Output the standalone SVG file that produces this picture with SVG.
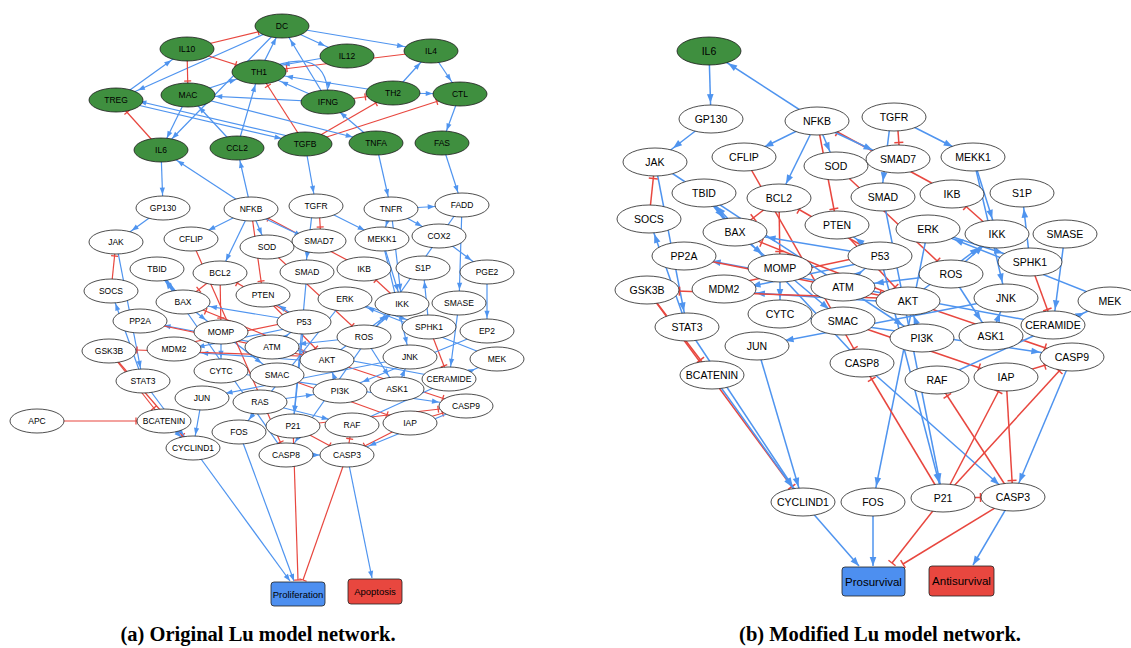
<svg xmlns="http://www.w3.org/2000/svg" width="1131" height="648" viewBox="0 0 1131 648">
<style>
.b{stroke:#4f94ef;stroke-width:1.2;fill:none}
.r{stroke:#e8473f;stroke-width:1.2;fill:none}
.B{stroke:#4f94ef;stroke-width:1.5;fill:none}
.R{stroke:#e8473f;stroke-width:1.5;fill:none}
.thick{stroke-width:3}
.n ellipse{fill:#fff;stroke:#222;stroke-width:0.8}
.n.g ellipse{fill:#3f8f3f;stroke:#1a1a1a}
.n text{font-family:"Liberation Sans",Arial,sans-serif;font-size:8.5px;text-anchor:middle;fill:#000}
.m text{font-size:10.5px}
.box rect{stroke:#222;stroke-width:0.8}
.box text{font-family:"Liberation Sans",Arial,sans-serif;text-anchor:middle;fill:#000}
.cap{font-family:"Liberation Serif","Times New Roman",serif;font-weight:bold;font-size:20.5px;text-anchor:middle;fill:#000}
</style>
<defs>
<marker id="aL0" markerUnits="userSpaceOnUse" markerWidth="20" markerHeight="20" refX="0" refY="0" orient="auto" overflow="visible"><path d="M0,0L-7,-2.6L-7,2.6Z" fill="#4f94ef"/></marker>
<marker id="aL1" markerUnits="userSpaceOnUse" markerWidth="20" markerHeight="20" refX="13.3" refY="0" orient="auto" overflow="visible"><path d="M0,0L-7,-2.6L-7,2.6Z" fill="#4f94ef"/></marker>
<marker id="aL2" markerUnits="userSpaceOnUse" markerWidth="20" markerHeight="20" refX="15.8" refY="0" orient="auto" overflow="visible"><path d="M0,0L-7,-2.6L-7,2.6Z" fill="#4f94ef"/></marker>
<marker id="aL3" markerUnits="userSpaceOnUse" markerWidth="20" markerHeight="20" refX="19.3" refY="0" orient="auto" overflow="visible"><path d="M0,0L-7,-2.6L-7,2.6Z" fill="#4f94ef"/></marker>
<marker id="aL4" markerUnits="userSpaceOnUse" markerWidth="20" markerHeight="20" refX="24" refY="0" orient="auto" overflow="visible"><path d="M0,0L-7,-2.6L-7,2.6Z" fill="#4f94ef"/></marker>
<marker id="aL5" markerUnits="userSpaceOnUse" markerWidth="20" markerHeight="20" refX="27.3" refY="0" orient="auto" overflow="visible"><path d="M0,0L-7,-2.6L-7,2.6Z" fill="#4f94ef"/></marker>
<marker id="tL0" markerUnits="userSpaceOnUse" markerWidth="20" markerHeight="20" refX="0" refY="0" orient="auto" overflow="visible"><path d="M0,-3.8V3.8" stroke="#e8473f" stroke-width="1.3"/></marker>
<marker id="tL1" markerUnits="userSpaceOnUse" markerWidth="20" markerHeight="20" refX="14" refY="0" orient="auto" overflow="visible"><path d="M0,-3.5V3.5" stroke="#e8473f" stroke-width="1.3"/></marker>
<marker id="tL2" markerUnits="userSpaceOnUse" markerWidth="20" markerHeight="20" refX="16.5" refY="0" orient="auto" overflow="visible"><path d="M0,-3.5V3.5" stroke="#e8473f" stroke-width="1.3"/></marker>
<marker id="tL3" markerUnits="userSpaceOnUse" markerWidth="20" markerHeight="20" refX="20" refY="0" orient="auto" overflow="visible"><path d="M0,-3.5V3.5" stroke="#e8473f" stroke-width="1.3"/></marker>
<marker id="tL4" markerUnits="userSpaceOnUse" markerWidth="20" markerHeight="20" refX="24.5" refY="0" orient="auto" overflow="visible"><path d="M0,-3.5V3.5" stroke="#e8473f" stroke-width="1.3"/></marker>
<marker id="tL5" markerUnits="userSpaceOnUse" markerWidth="20" markerHeight="20" refX="28" refY="0" orient="auto" overflow="visible"><path d="M0,-3.5V3.5" stroke="#e8473f" stroke-width="1.3"/></marker>
<marker id="aR0" markerUnits="userSpaceOnUse" markerWidth="20" markerHeight="20" refX="0" refY="0" orient="auto" overflow="visible"><path d="M0,0L-9,-3.3L-9,3.3Z" fill="#4f94ef"/></marker>
<marker id="aR1" markerUnits="userSpaceOnUse" markerWidth="20" markerHeight="20" refX="15.9" refY="0" orient="auto" overflow="visible"><path d="M0,0L-9,-3.3L-9,3.3Z" fill="#4f94ef"/></marker>
<marker id="aR2" markerUnits="userSpaceOnUse" markerWidth="20" markerHeight="20" refX="18.5" refY="0" orient="auto" overflow="visible"><path d="M0,0L-9,-3.3L-9,3.3Z" fill="#4f94ef"/></marker>
<marker id="aR3" markerUnits="userSpaceOnUse" markerWidth="20" markerHeight="20" refX="22.7" refY="0" orient="auto" overflow="visible"><path d="M0,0L-9,-3.3L-9,3.3Z" fill="#4f94ef"/></marker>
<marker id="aR4" markerUnits="userSpaceOnUse" markerWidth="20" markerHeight="20" refX="28.1" refY="0" orient="auto" overflow="visible"><path d="M0,0L-9,-3.3L-9,3.3Z" fill="#4f94ef"/></marker>
<marker id="aR5" markerUnits="userSpaceOnUse" markerWidth="20" markerHeight="20" refX="32" refY="0" orient="auto" overflow="visible"><path d="M0,0L-9,-3.3L-9,3.3Z" fill="#4f94ef"/></marker>
<marker id="tR0" markerUnits="userSpaceOnUse" markerWidth="20" markerHeight="20" refX="0" refY="0" orient="auto" overflow="visible"><path d="M0,-4.5V4.5" stroke="#e8473f" stroke-width="1.5"/></marker>
<marker id="tR1" markerUnits="userSpaceOnUse" markerWidth="20" markerHeight="20" refX="16.5" refY="0" orient="auto" overflow="visible"><path d="M0,-4.5V4.5" stroke="#e8473f" stroke-width="1.5"/></marker>
<marker id="tR2" markerUnits="userSpaceOnUse" markerWidth="20" markerHeight="20" refX="19" refY="0" orient="auto" overflow="visible"><path d="M0,-4.5V4.5" stroke="#e8473f" stroke-width="1.5"/></marker>
<marker id="tR3" markerUnits="userSpaceOnUse" markerWidth="20" markerHeight="20" refX="23.3" refY="0" orient="auto" overflow="visible"><path d="M0,-4.5V4.5" stroke="#e8473f" stroke-width="1.5"/></marker>
<marker id="tR4" markerUnits="userSpaceOnUse" markerWidth="20" markerHeight="20" refX="28.6" refY="0" orient="auto" overflow="visible"><path d="M0,-4.5V4.5" stroke="#e8473f" stroke-width="1.5"/></marker>
<marker id="tR5" markerUnits="userSpaceOnUse" markerWidth="20" markerHeight="20" refX="32.5" refY="0" orient="auto" overflow="visible"><path d="M0,-4.5V4.5" stroke="#e8473f" stroke-width="1.5"/></marker>
</defs>
<rect width="1131" height="648" fill="#fff"/>
<g id="connectors-a">
<line x1="187" y1="49" x2="282" y2="26" class="r" marker-end="url(#tL4)"/>
<line x1="282" y1="26" x2="431" y2="51" class="b" marker-end="url(#aL5)"/>
<line x1="282" y1="26" x2="347" y2="56" class="b" marker-end="url(#aL4)"/>
<line x1="282" y1="26" x2="116" y2="100" class="b" marker-end="url(#aL4)"/>
<line x1="116" y1="100" x2="187" y2="49" class="b" marker-end="url(#aL3)"/>
<line x1="187" y1="49" x2="259" y2="72" class="r" marker-end="url(#tL4)"/>
<line x1="187" y1="49" x2="188" y2="95" class="r" marker-end="url(#tL1)"/>
<line x1="259" y1="72" x2="282" y2="26" class="b" marker-end="url(#aL1)"/>
<line x1="328" y1="102" x2="282" y2="26" class="b" marker-end="url(#aL2)"/>
<line x1="282" y1="26" x2="161" y2="150" class="b" marker-end="url(#aL2)"/>
<line x1="347" y1="54" x2="259" y2="69" class="b" marker-end="url(#aL4)"/>
<line x1="431" y1="51" x2="259" y2="72" class="r" marker-end="url(#tL5)"/>
<path d="M259,72 Q330,40 328,102" class="b" marker-end="url(#aL1)"/>
<line x1="393" y1="93" x2="431" y2="51" class="b" marker-end="url(#aL2)"/>
<line x1="393" y1="93" x2="259" y2="72" class="b" marker-end="url(#aL5)"/>
<line x1="328" y1="102" x2="259" y2="72" class="b" marker-end="url(#aL4)"/>
<line x1="328" y1="102" x2="188" y2="95" class="b" marker-end="url(#aL5)"/>
<line x1="328" y1="102" x2="393" y2="93" class="r" marker-end="url(#tL5)"/>
<line x1="305" y1="144" x2="259" y2="72" class="r" marker-end="url(#tL2)"/>
<line x1="305" y1="144" x2="393" y2="93" class="r" marker-end="url(#tL3)"/>
<line x1="305" y1="144" x2="460" y2="94" class="r" marker-end="url(#tL4)"/>
<line x1="393" y1="93" x2="460" y2="94" class="b" marker-end="url(#aL5)"/>
<line x1="431" y1="51" x2="460" y2="94" class="b" marker-end="url(#aL2)"/>
<line x1="460" y1="94" x2="442" y2="143" class="b" marker-end="url(#aL1)"/>
<line x1="376" y1="143" x2="328" y2="102" class="b" marker-end="url(#aL2)"/>
<line x1="188" y1="95" x2="376" y2="143" class="b" marker-end="url(#aL4)"/>
<line x1="188" y1="95" x2="161" y2="150" class="b" marker-end="url(#aL1)"/>
<line x1="116" y1="100" x2="305" y2="144" class="b" marker-end="url(#aL4)"/>
<line x1="305" y1="140" x2="116" y2="96" class="b" marker-end="url(#aL4)"/>
<line x1="161" y1="150" x2="116" y2="100" class="r" marker-end="url(#tL2)"/>
<line x1="237" y1="148" x2="188" y2="95" class="b" marker-end="url(#aL2)"/>
<line x1="237" y1="148" x2="259" y2="72" class="b" marker-end="url(#aL1)"/>
<line x1="188" y1="95" x2="259" y2="72" class="b" marker-end="url(#aL4)"/>
<line x1="161" y1="150" x2="163" y2="208" class="b" marker-end="url(#aL1)"/>
<line x1="251" y1="209" x2="161" y2="150" class="b" marker-end="url(#aL3)"/>
<line x1="251" y1="209" x2="237" y2="148" class="b" marker-end="url(#aL1)"/>
<line x1="305" y1="144" x2="316" y2="206" class="b" marker-end="url(#aL1)"/>
<line x1="376" y1="143" x2="391" y2="209" class="b" marker-end="url(#aL1)"/>
<line x1="442" y1="143" x2="462" y2="205" class="b" marker-end="url(#aL1)"/>
<line x1="163" y1="208" x2="116" y2="242" class="b" marker-end="url(#aL3)"/>
<line x1="116" y1="242" x2="143" y2="381" class="b" marker-end="url(#aL1)"/>
<line x1="111" y1="291" x2="116" y2="242" class="r" marker-end="url(#tL1)"/>
<line x1="143" y1="381" x2="111" y2="291" class="b" marker-end="url(#aL1)"/>
<line x1="251" y1="209" x2="191" y2="239" class="b" marker-end="url(#aL3)"/>
<line x1="251" y1="209" x2="220" y2="273" class="b" marker-end="url(#aL1)"/>
<line x1="251" y1="209" x2="267" y2="247" class="b" marker-end="url(#aL1)"/>
<line x1="251" y1="209" x2="263" y2="295" class="r" marker-end="url(#tL1)"/>
<line x1="364" y1="269" x2="251" y2="209" class="r" marker-end="url(#tL3)"/>
<line x1="251" y1="212" x2="319" y2="244" class="b" marker-end="url(#aL3)"/>
<line x1="402" y1="304" x2="364" y2="269" class="r" marker-end="url(#tL2)"/>
<line x1="316" y1="206" x2="382" y2="239" class="b" marker-end="url(#aL3)"/>
<line x1="319" y1="206" x2="321" y2="241" class="r" marker-end="url(#tL1)"/>
<line x1="313" y1="206" x2="305" y2="272" class="b" marker-end="url(#aL1)"/>
<line x1="267" y1="247" x2="364" y2="337" class="r" marker-end="url(#tL2)"/>
<line x1="157" y1="269" x2="183" y2="302" class="b thick" marker-end="url(#aL2)"/>
<line x1="220" y1="273" x2="183" y2="302" class="r" marker-end="url(#tL3)"/>
<line x1="220" y1="273" x2="221" y2="332" class="r" marker-end="url(#tL1)"/>
<line x1="183" y1="302" x2="221" y2="332" class="b" marker-end="url(#aL3)"/>
<line x1="221" y1="332" x2="221" y2="371" class="b" marker-end="url(#aL1)"/>
<line x1="221" y1="332" x2="277" y2="375" class="b" marker-end="url(#aL3)"/>
<line x1="191" y1="239" x2="286" y2="455" class="r" marker-end="url(#tL1)"/>
<line x1="286" y1="455" x2="157" y2="269" class="b" marker-end="url(#aL2)"/>
<line x1="286" y1="455" x2="347" y2="455" class="b" marker-end="url(#aL5)"/>
<line x1="221" y1="371" x2="466" y2="406" class="b" marker-end="url(#aL5)"/>
<line x1="277" y1="375" x2="410" y2="423" class="r" marker-end="url(#tL4)"/>
<line x1="410" y1="423" x2="466" y2="406" class="r" marker-end="url(#tL4)"/>
<line x1="410" y1="423" x2="347" y2="455" class="r" marker-end="url(#tL3)"/>
<line x1="466" y1="406" x2="347" y2="455" class="b" marker-end="url(#aL4)"/>
<line x1="304" y1="322" x2="183" y2="302" class="b" marker-end="url(#aL5)"/>
<line x1="304" y1="322" x2="220" y2="273" class="r" marker-end="url(#tL3)"/>
<line x1="304" y1="322" x2="263" y2="295" class="b" marker-end="url(#aL3)"/>
<line x1="304" y1="325" x2="174" y2="352" class="b" marker-end="url(#aL4)"/>
<line x1="174" y1="346" x2="304" y2="319" class="r" marker-end="url(#tL4)"/>
<line x1="272" y1="347" x2="304" y2="322" class="b" marker-end="url(#aL3)"/>
<line x1="364" y1="337" x2="272" y2="347" class="b" marker-end="url(#aL5)"/>
<line x1="263" y1="295" x2="327" y2="360" class="r" marker-end="url(#tL2)"/>
<line x1="340" y1="391" x2="327" y2="360" class="b" marker-end="url(#aL1)"/>
<line x1="327" y1="362" x2="174" y2="351" class="b" marker-end="url(#aL5)"/>
<line x1="327" y1="357" x2="109" y2="349" class="r" marker-end="url(#tL5)"/>
<line x1="327" y1="360" x2="402" y2="304" class="b" marker-end="url(#aL3)"/>
<line x1="327" y1="360" x2="183" y2="302" class="r" marker-end="url(#tL4)"/>
<line x1="327" y1="360" x2="466" y2="406" class="r" marker-end="url(#tL4)"/>
<line x1="109" y1="351" x2="164" y2="421" class="r" marker-end="url(#tL2)"/>
<line x1="109" y1="351" x2="193" y2="448" class="r" marker-end="url(#tL2)"/>
<line x1="164" y1="421" x2="193" y2="448" class="b" marker-end="url(#aL2)"/>
<line x1="143" y1="381" x2="193" y2="448" class="b" marker-end="url(#aL2)"/>
<line x1="202" y1="398" x2="193" y2="448" class="b" marker-end="url(#aL1)"/>
<line x1="410" y1="357" x2="202" y2="398" class="b" marker-end="url(#aL4)"/>
<line x1="397" y1="389" x2="410" y2="357" class="b" marker-end="url(#aL1)"/>
<line x1="364" y1="337" x2="397" y2="389" class="b" marker-end="url(#aL2)"/>
<line x1="382" y1="239" x2="410" y2="357" class="b" marker-end="url(#aL1)"/>
<line x1="382" y1="239" x2="402" y2="304" class="b" marker-end="url(#aL1)"/>
<line x1="364" y1="337" x2="402" y2="304" class="b" marker-end="url(#aL2)"/>
<line x1="345" y1="299" x2="239" y2="432" class="b" marker-end="url(#aL2)"/>
<line x1="352" y1="425" x2="497" y2="359" class="b" marker-end="url(#aL4)"/>
<line x1="497" y1="359" x2="345" y2="299" class="b" marker-end="url(#aL4)"/>
<line x1="304" y1="322" x2="293" y2="426" class="b" marker-end="url(#aL1)"/>
<line x1="307" y1="272" x2="293" y2="426" class="b" marker-end="url(#aL1)"/>
<line x1="429" y1="327" x2="423" y2="268" class="b" marker-end="url(#aL1)"/>
<line x1="429" y1="327" x2="449" y2="379" class="r" marker-end="url(#tL1)"/>
<line x1="459" y1="303" x2="449" y2="379" class="b" marker-end="url(#aL1)"/>
<line x1="449" y1="379" x2="140" y2="321" class="b" marker-end="url(#aL4)"/>
<line x1="140" y1="321" x2="327" y2="360" class="r" marker-end="url(#tL4)"/>
<line x1="345" y1="299" x2="429" y2="327" class="b" marker-end="url(#aL4)"/>
<line x1="293" y1="426" x2="466" y2="406" class="r" marker-end="url(#tL5)"/>
<line x1="293" y1="426" x2="347" y2="455" class="r" marker-end="url(#tL3)"/>
<line x1="347" y1="455" x2="352" y2="425" class="r" marker-end="url(#tL1)"/>
<line x1="260" y1="402" x2="340" y2="391" class="b" marker-end="url(#aL5)"/>
<line x1="260" y1="402" x2="352" y2="425" class="b" marker-end="url(#aL4)"/>
<line x1="487" y1="331" x2="340" y2="391" class="b" marker-end="url(#aL4)"/>
<line x1="439" y1="236" x2="487" y2="272" class="b" marker-end="url(#aL3)"/>
<line x1="487" y1="272" x2="487" y2="331" class="b" marker-end="url(#aL1)"/>
<line x1="391" y1="209" x2="462" y2="205" class="b" marker-end="url(#aL5)"/>
<line x1="391" y1="209" x2="439" y2="236" class="b" marker-end="url(#aL3)"/>
<line x1="391" y1="209" x2="382" y2="239" class="b" marker-end="url(#aL1)"/>
<line x1="391" y1="209" x2="402" y2="304" class="b" marker-end="url(#aL1)"/>
<line x1="462" y1="205" x2="286" y2="455" class="b" marker-end="url(#aL2)"/>
<line x1="462" y1="205" x2="459" y2="303" class="b" marker-end="url(#aL1)"/>
<line x1="37" y1="421" x2="164" y2="421" class="r" marker-end="url(#tL5)"/>
<line x1="193" y1="448" x2="290" y2="581" class="b" marker-end="url(#aL0)"/>
<line x1="239" y1="432" x2="294" y2="581" class="b" marker-end="url(#aL0)"/>
<line x1="293" y1="426" x2="298" y2="580" class="r" marker-end="url(#tL0)"/>
<line x1="347" y1="455" x2="303" y2="580" class="r" marker-end="url(#tL0)"/>
<line x1="347" y1="455" x2="372" y2="578" class="b" marker-end="url(#aL0)"/>
</g>
<g id="connectors-b">
<line x1="709" y1="51" x2="711" y2="119" class="B" marker-end="url(#aR1)"/>
<line x1="817" y1="121" x2="709" y2="51" class="B" marker-end="url(#aR3)"/>
<line x1="711" y1="119" x2="655" y2="162" class="B" marker-end="url(#aR3)"/>
<line x1="655" y1="162" x2="687" y2="327" class="B" marker-end="url(#aR1)"/>
<line x1="649" y1="219" x2="655" y2="162" class="R" marker-end="url(#tR1)"/>
<line x1="687" y1="327" x2="649" y2="219" class="B" marker-end="url(#aR1)"/>
<line x1="817" y1="121" x2="744" y2="157" class="B" marker-end="url(#aR3)"/>
<line x1="817" y1="121" x2="779" y2="198" class="B" marker-end="url(#aR1)"/>
<line x1="817" y1="121" x2="836" y2="166" class="B" marker-end="url(#aR1)"/>
<line x1="817" y1="121" x2="837" y2="225" class="R" marker-end="url(#tR1)"/>
<line x1="952" y1="194" x2="817" y2="121" class="R" marker-end="url(#tR3)"/>
<line x1="817" y1="124" x2="898" y2="162" class="B" marker-end="url(#aR4)"/>
<line x1="997" y1="234" x2="952" y2="194" class="R" marker-end="url(#tR2)"/>
<line x1="894" y1="117" x2="973" y2="157" class="B" marker-end="url(#aR3)"/>
<line x1="897" y1="117" x2="900" y2="159" class="R" marker-end="url(#tR1)"/>
<line x1="891" y1="117" x2="881" y2="197" class="B" marker-end="url(#aR1)"/>
<line x1="836" y1="166" x2="951" y2="274" class="R" marker-end="url(#tR2)"/>
<line x1="704" y1="193" x2="735" y2="232" class="B thick" marker-end="url(#aR2)"/>
<line x1="779" y1="198" x2="735" y2="232" class="R" marker-end="url(#tR3)"/>
<line x1="779" y1="198" x2="780" y2="268" class="R" marker-end="url(#tR1)"/>
<line x1="735" y1="232" x2="780" y2="268" class="B" marker-end="url(#aR3)"/>
<line x1="780" y1="268" x2="780" y2="314" class="B" marker-end="url(#aR1)"/>
<line x1="780" y1="268" x2="843" y2="321" class="B" marker-end="url(#aR2)"/>
<line x1="744" y1="157" x2="862" y2="363" class="R" marker-end="url(#tR1)"/>
<line x1="862" y1="363" x2="704" y2="193" class="B" marker-end="url(#aR2)"/>
<line x1="862" y1="363" x2="1013" y2="497" class="B" marker-end="url(#aR2)"/>
<line x1="780" y1="314" x2="1072" y2="357" class="B" marker-end="url(#aR5)"/>
<line x1="843" y1="321" x2="1006" y2="377" class="R" marker-end="url(#tR4)"/>
<line x1="1006" y1="377" x2="1072" y2="357" class="R" marker-end="url(#tR4)"/>
<line x1="1006" y1="377" x2="1013" y2="497" class="R" marker-end="url(#tR1)"/>
<line x1="1072" y1="357" x2="1013" y2="497" class="B" marker-end="url(#aR1)"/>
<line x1="880" y1="256" x2="735" y2="232" class="B" marker-end="url(#aR5)"/>
<line x1="880" y1="256" x2="779" y2="198" class="R" marker-end="url(#tR3)"/>
<line x1="880" y1="256" x2="837" y2="225" class="B" marker-end="url(#aR3)"/>
<line x1="880" y1="259" x2="724" y2="292" class="B" marker-end="url(#aR4)"/>
<line x1="724" y1="286" x2="880" y2="253" class="R" marker-end="url(#tR4)"/>
<line x1="843" y1="287" x2="880" y2="256" class="B" marker-end="url(#aR3)"/>
<line x1="951" y1="274" x2="843" y2="287" class="B" marker-end="url(#aR5)"/>
<line x1="837" y1="225" x2="908" y2="301" class="R" marker-end="url(#tR2)"/>
<line x1="922" y1="338" x2="908" y2="301" class="B" marker-end="url(#aR1)"/>
<line x1="908" y1="303" x2="724" y2="291" class="B" marker-end="url(#aR5)"/>
<line x1="908" y1="299" x2="647" y2="290" class="R" marker-end="url(#tR5)"/>
<line x1="908" y1="301" x2="997" y2="234" class="B" marker-end="url(#aR3)"/>
<line x1="908" y1="301" x2="735" y2="232" class="R" marker-end="url(#tR4)"/>
<line x1="908" y1="301" x2="1072" y2="357" class="R" marker-end="url(#tR4)"/>
<line x1="647" y1="290" x2="712" y2="375" class="R" marker-end="url(#tR2)"/>
<line x1="647" y1="290" x2="803" y2="502" class="R" marker-end="url(#tR2)"/>
<line x1="712" y1="375" x2="803" y2="502" class="B" marker-end="url(#aR2)"/>
<line x1="687" y1="327" x2="803" y2="502" class="B" marker-end="url(#aR2)"/>
<line x1="757" y1="346" x2="803" y2="502" class="B" marker-end="url(#aR1)"/>
<line x1="1006" y1="298" x2="757" y2="346" class="B" marker-end="url(#aR4)"/>
<line x1="991" y1="336" x2="1006" y2="298" class="B" marker-end="url(#aR1)"/>
<line x1="951" y1="274" x2="991" y2="336" class="B" marker-end="url(#aR2)"/>
<line x1="973" y1="157" x2="1006" y2="298" class="B" marker-end="url(#aR1)"/>
<line x1="973" y1="157" x2="997" y2="234" class="B" marker-end="url(#aR1)"/>
<line x1="951" y1="274" x2="997" y2="234" class="B" marker-end="url(#aR2)"/>
<line x1="928" y1="229" x2="873" y2="502" class="B" marker-end="url(#aR1)"/>
<line x1="937" y1="380" x2="1110" y2="301" class="B" marker-end="url(#aR4)"/>
<line x1="1110" y1="301" x2="928" y2="229" class="B" marker-end="url(#aR4)"/>
<line x1="880" y1="256" x2="943" y2="498" class="B" marker-end="url(#aR1)"/>
<line x1="883" y1="197" x2="943" y2="498" class="B" marker-end="url(#aR1)"/>
<line x1="1030" y1="262" x2="1022" y2="193" class="B" marker-end="url(#aR1)"/>
<line x1="1030" y1="262" x2="1053" y2="325" class="R" marker-end="url(#tR1)"/>
<line x1="1065" y1="234" x2="1053" y2="325" class="B" marker-end="url(#aR1)"/>
<line x1="1053" y1="325" x2="684" y2="256" class="B" marker-end="url(#aR4)"/>
<line x1="684" y1="256" x2="908" y2="301" class="R" marker-end="url(#tR4)"/>
<line x1="928" y1="229" x2="1030" y2="262" class="B" marker-end="url(#aR4)"/>
<line x1="655" y1="162" x2="922" y2="338" class="B" marker-end="url(#aR3)"/>
<line x1="943" y1="498" x2="1072" y2="357" class="R" marker-end="url(#tR2)"/>
<line x1="943" y1="498" x2="1013" y2="497" class="R" marker-end="url(#tR5)"/>
<line x1="943" y1="498" x2="862" y2="363" class="R" marker-end="url(#tR2)"/>
<line x1="943" y1="498" x2="1006" y2="377" class="R" marker-end="url(#tR1)"/>
<line x1="1013" y1="497" x2="937" y2="380" class="R" marker-end="url(#tR2)"/>
<line x1="803" y1="502" x2="859" y2="566" class="B" marker-end="url(#aR0)"/>
<line x1="873" y1="502" x2="873" y2="566" class="B" marker-end="url(#aR0)"/>
<line x1="943" y1="498" x2="892" y2="563" class="R" marker-end="url(#tR0)"/>
<line x1="1013" y1="497" x2="903" y2="564" class="R" marker-end="url(#tR0)"/>
<line x1="1013" y1="497" x2="973" y2="565" class="B" marker-end="url(#aR0)"/>
</g>
<g id="nodes-a">
<g id="a-DC" class="n g"><ellipse cx="282" cy="26" rx="27" ry="12"/><text x="282" y="29">DC</text></g>
<g id="a-IL10" class="n g"><ellipse cx="187" cy="49" rx="27" ry="12"/><text x="187" y="52">IL10</text></g>
<g id="a-IL12" class="n g"><ellipse cx="347" cy="56" rx="27" ry="12"/><text x="347" y="59">IL12</text></g>
<g id="a-IL4" class="n g"><ellipse cx="431" cy="51" rx="27" ry="12"/><text x="431" y="54">IL4</text></g>
<g id="a-TH1" class="n g"><ellipse cx="259" cy="72" rx="27" ry="12"/><text x="259" y="75">TH1</text></g>
<g id="a-TREG" class="n g"><ellipse cx="116" cy="100" rx="27" ry="12"/><text x="116" y="103">TREG</text></g>
<g id="a-MAC" class="n g"><ellipse cx="188" cy="95" rx="27" ry="12"/><text x="188" y="98">MAC</text></g>
<g id="a-IFNG" class="n g"><ellipse cx="328" cy="102" rx="27" ry="12"/><text x="328" y="105">IFNG</text></g>
<g id="a-TH2" class="n g"><ellipse cx="393" cy="93" rx="27" ry="12"/><text x="393" y="96">TH2</text></g>
<g id="a-CTL" class="n g"><ellipse cx="460" cy="94" rx="27" ry="12"/><text x="460" y="97">CTL</text></g>
<g id="a-IL6" class="n g"><ellipse cx="161" cy="150" rx="27" ry="12"/><text x="161" y="153">IL6</text></g>
<g id="a-CCL2" class="n g"><ellipse cx="237" cy="148" rx="27" ry="12"/><text x="237" y="151">CCL2</text></g>
<g id="a-TGFB" class="n g"><ellipse cx="305" cy="144" rx="27" ry="12"/><text x="305" y="147">TGFB</text></g>
<g id="a-TNFA" class="n g"><ellipse cx="376" cy="143" rx="27" ry="12"/><text x="376" y="146">TNFA</text></g>
<g id="a-FAS" class="n g"><ellipse cx="442" cy="143" rx="27" ry="12"/><text x="442" y="146">FAS</text></g>
<g id="a-GP130" class="n"><ellipse cx="163" cy="208" rx="27" ry="12"/><text x="163" y="211">GP130</text></g>
<g id="a-NFKB" class="n"><ellipse cx="251" cy="209" rx="27" ry="12"/><text x="251" y="212">NFKB</text></g>
<g id="a-TGFR" class="n"><ellipse cx="316" cy="206" rx="27" ry="12"/><text x="316" y="209">TGFR</text></g>
<g id="a-TNFR" class="n"><ellipse cx="391" cy="209" rx="27" ry="12"/><text x="391" y="212">TNFR</text></g>
<g id="a-FADD" class="n"><ellipse cx="462" cy="205" rx="27" ry="12"/><text x="462" y="208">FADD</text></g>
<g id="a-JAK" class="n"><ellipse cx="116" cy="242" rx="27" ry="12"/><text x="116" y="245">JAK</text></g>
<g id="a-CFLIP" class="n"><ellipse cx="191" cy="239" rx="27" ry="12"/><text x="191" y="242">CFLIP</text></g>
<g id="a-SOD" class="n"><ellipse cx="267" cy="247" rx="27" ry="12"/><text x="267" y="250">SOD</text></g>
<g id="a-SMAD7" class="n"><ellipse cx="319" cy="241" rx="27" ry="12"/><text x="319" y="244">SMAD7</text></g>
<g id="a-MEKK1" class="n"><ellipse cx="382" cy="239" rx="27" ry="12"/><text x="382" y="242">MEKK1</text></g>
<g id="a-COX2" class="n"><ellipse cx="439" cy="236" rx="27" ry="12"/><text x="439" y="239">COX2</text></g>
<g id="a-TBID" class="n"><ellipse cx="157" cy="269" rx="27" ry="12"/><text x="157" y="272">TBID</text></g>
<g id="a-BCL2" class="n"><ellipse cx="220" cy="273" rx="27" ry="12"/><text x="220" y="276">BCL2</text></g>
<g id="a-SMAD" class="n"><ellipse cx="307" cy="272" rx="27" ry="12"/><text x="307" y="275">SMAD</text></g>
<g id="a-IKB" class="n"><ellipse cx="364" cy="269" rx="27" ry="12"/><text x="364" y="272">IKB</text></g>
<g id="a-S1P" class="n"><ellipse cx="423" cy="268" rx="27" ry="12"/><text x="423" y="271">S1P</text></g>
<g id="a-PGE2" class="n"><ellipse cx="487" cy="272" rx="27" ry="12"/><text x="487" y="275">PGE2</text></g>
<g id="a-SOCS" class="n"><ellipse cx="111" cy="291" rx="27" ry="12"/><text x="111" y="294">SOCS</text></g>
<g id="a-PTEN" class="n"><ellipse cx="263" cy="295" rx="27" ry="12"/><text x="263" y="298">PTEN</text></g>
<g id="a-BAX" class="n"><ellipse cx="183" cy="302" rx="27" ry="12"/><text x="183" y="305">BAX</text></g>
<g id="a-ERK" class="n"><ellipse cx="345" cy="299" rx="27" ry="12"/><text x="345" y="302">ERK</text></g>
<g id="a-IKK" class="n"><ellipse cx="402" cy="304" rx="27" ry="12"/><text x="402" y="307">IKK</text></g>
<g id="a-SMASE" class="n"><ellipse cx="459" cy="303" rx="27" ry="12"/><text x="459" y="306">SMASE</text></g>
<g id="a-PP2A" class="n"><ellipse cx="140" cy="321" rx="27" ry="12"/><text x="140" y="324">PP2A</text></g>
<g id="a-P53" class="n"><ellipse cx="304" cy="322" rx="27" ry="12"/><text x="304" y="325">P53</text></g>
<g id="a-SPHK1" class="n"><ellipse cx="429" cy="327" rx="27" ry="12"/><text x="429" y="330">SPHK1</text></g>
<g id="a-EP2" class="n"><ellipse cx="487" cy="331" rx="27" ry="12"/><text x="487" y="334">EP2</text></g>
<g id="a-MOMP" class="n"><ellipse cx="221" cy="332" rx="27" ry="12"/><text x="221" y="335">MOMP</text></g>
<g id="a-ROS" class="n"><ellipse cx="364" cy="337" rx="27" ry="12"/><text x="364" y="340">ROS</text></g>
<g id="a-GSK3B" class="n"><ellipse cx="109" cy="351" rx="27" ry="12"/><text x="109" y="354">GSK3B</text></g>
<g id="a-MDM2" class="n"><ellipse cx="174" cy="349" rx="27" ry="12"/><text x="174" y="352">MDM2</text></g>
<g id="a-ATM" class="n"><ellipse cx="272" cy="347" rx="27" ry="12"/><text x="272" y="350">ATM</text></g>
<g id="a-AKT" class="n"><ellipse cx="327" cy="360" rx="27" ry="12"/><text x="327" y="363">AKT</text></g>
<g id="a-JNK" class="n"><ellipse cx="410" cy="357" rx="27" ry="12"/><text x="410" y="360">JNK</text></g>
<g id="a-MEK" class="n"><ellipse cx="497" cy="359" rx="27" ry="12"/><text x="497" y="362">MEK</text></g>
<g id="a-CYTC" class="n"><ellipse cx="221" cy="371" rx="27" ry="12"/><text x="221" y="374">CYTC</text></g>
<g id="a-SMAC" class="n"><ellipse cx="277" cy="375" rx="27" ry="12"/><text x="277" y="378">SMAC</text></g>
<g id="a-CERAMIDE" class="n"><ellipse cx="449" cy="379" rx="27" ry="12"/><text x="449" y="382">CERAMIDE</text></g>
<g id="a-STAT3" class="n"><ellipse cx="143" cy="381" rx="27" ry="12"/><text x="143" y="384">STAT3</text></g>
<g id="a-PI3K" class="n"><ellipse cx="340" cy="391" rx="27" ry="12"/><text x="340" y="394">PI3K</text></g>
<g id="a-ASK1" class="n"><ellipse cx="397" cy="389" rx="27" ry="12"/><text x="397" y="392">ASK1</text></g>
<g id="a-JUN" class="n"><ellipse cx="202" cy="398" rx="27" ry="12"/><text x="202" y="401">JUN</text></g>
<g id="a-RAS" class="n"><ellipse cx="260" cy="402" rx="27" ry="12"/><text x="260" y="405">RAS</text></g>
<g id="a-CASP9" class="n"><ellipse cx="466" cy="406" rx="27" ry="12"/><text x="466" y="409">CASP9</text></g>
<g id="a-APC" class="n"><ellipse cx="37" cy="421" rx="27" ry="12"/><text x="37" y="424">APC</text></g>
<g id="a-BCATENIN" class="n"><ellipse cx="164" cy="421" rx="27" ry="12"/><text x="164" y="424">BCATENIN</text></g>
<g id="a-P21" class="n"><ellipse cx="293" cy="426" rx="27" ry="12"/><text x="293" y="429">P21</text></g>
<g id="a-RAF" class="n"><ellipse cx="352" cy="425" rx="27" ry="12"/><text x="352" y="428">RAF</text></g>
<g id="a-IAP" class="n"><ellipse cx="410" cy="423" rx="27" ry="12"/><text x="410" y="426">IAP</text></g>
<g id="a-FOS" class="n"><ellipse cx="239" cy="432" rx="27" ry="12"/><text x="239" y="435">FOS</text></g>
<g id="a-CYCLIND1" class="n"><ellipse cx="193" cy="448" rx="27" ry="12"/><text x="193" y="451">CYCLIND1</text></g>
<g id="a-CASP8" class="n"><ellipse cx="286" cy="455" rx="27" ry="12"/><text x="286" y="458">CASP8</text></g>
<g id="a-CASP3" class="n"><ellipse cx="347" cy="455" rx="27" ry="12"/><text x="347" y="458">CASP3</text></g>
<g id="a-Proliferation" class="box"><rect x="271" y="582" width="54" height="24" rx="3" fill="#4d8ff0"/><text x="298" y="597.5" font-size="9.5">Proliferation</text></g>
<g id="a-Apoptosis" class="box"><rect x="348" y="579" width="54" height="25" rx="3" fill="#e8473f"/><text x="375" y="595" font-size="9.5">Apoptosis</text></g>
</g>
<g id="nodes-b">
<g id="b-IL6" class="n m g"><ellipse cx="709" cy="51" rx="32" ry="14"/><text x="709" y="55">IL6</text></g>
<g id="b-GP130" class="n m"><ellipse cx="711" cy="119" rx="32" ry="14"/><text x="711" y="123">GP130</text></g>
<g id="b-NFKB" class="n m"><ellipse cx="817" cy="121" rx="32" ry="14"/><text x="817" y="125">NFKB</text></g>
<g id="b-TGFR" class="n m"><ellipse cx="894" cy="117" rx="32" ry="14"/><text x="894" y="121">TGFR</text></g>
<g id="b-JAK" class="n m"><ellipse cx="655" cy="162" rx="32" ry="14"/><text x="655" y="166">JAK</text></g>
<g id="b-CFLIP" class="n m"><ellipse cx="744" cy="157" rx="32" ry="14"/><text x="744" y="161">CFLIP</text></g>
<g id="b-SOD" class="n m"><ellipse cx="836" cy="166" rx="32" ry="14"/><text x="836" y="170">SOD</text></g>
<g id="b-SMAD7" class="n m"><ellipse cx="898" cy="159" rx="32" ry="14"/><text x="898" y="163">SMAD7</text></g>
<g id="b-MEKK1" class="n m"><ellipse cx="973" cy="157" rx="32" ry="14"/><text x="973" y="161">MEKK1</text></g>
<g id="b-TBID" class="n m"><ellipse cx="704" cy="193" rx="32" ry="14"/><text x="704" y="197">TBID</text></g>
<g id="b-BCL2" class="n m"><ellipse cx="779" cy="198" rx="32" ry="14"/><text x="779" y="202">BCL2</text></g>
<g id="b-SMAD" class="n m"><ellipse cx="883" cy="197" rx="32" ry="14"/><text x="883" y="201">SMAD</text></g>
<g id="b-IKB" class="n m"><ellipse cx="952" cy="194" rx="32" ry="14"/><text x="952" y="198">IKB</text></g>
<g id="b-S1P" class="n m"><ellipse cx="1022" cy="193" rx="32" ry="14"/><text x="1022" y="197">S1P</text></g>
<g id="b-SOCS" class="n m"><ellipse cx="649" cy="219" rx="32" ry="14"/><text x="649" y="223">SOCS</text></g>
<g id="b-PTEN" class="n m"><ellipse cx="837" cy="225" rx="32" ry="14"/><text x="837" y="229">PTEN</text></g>
<g id="b-BAX" class="n m"><ellipse cx="735" cy="232" rx="32" ry="14"/><text x="735" y="236">BAX</text></g>
<g id="b-ERK" class="n m"><ellipse cx="928" cy="229" rx="32" ry="14"/><text x="928" y="233">ERK</text></g>
<g id="b-IKK" class="n m"><ellipse cx="997" cy="234" rx="32" ry="14"/><text x="997" y="238">IKK</text></g>
<g id="b-SMASE" class="n m"><ellipse cx="1065" cy="234" rx="32" ry="14"/><text x="1065" y="238">SMASE</text></g>
<g id="b-PP2A" class="n m"><ellipse cx="684" cy="256" rx="32" ry="14"/><text x="684" y="260">PP2A</text></g>
<g id="b-P53" class="n m"><ellipse cx="880" cy="256" rx="32" ry="14"/><text x="880" y="260">P53</text></g>
<g id="b-SPHK1" class="n m"><ellipse cx="1030" cy="262" rx="32" ry="14"/><text x="1030" y="266">SPHK1</text></g>
<g id="b-MOMP" class="n m"><ellipse cx="780" cy="268" rx="32" ry="14"/><text x="780" y="272">MOMP</text></g>
<g id="b-ROS" class="n m"><ellipse cx="951" cy="274" rx="32" ry="14"/><text x="951" y="278">ROS</text></g>
<g id="b-GSK3B" class="n m"><ellipse cx="647" cy="290" rx="32" ry="14"/><text x="647" y="294">GSK3B</text></g>
<g id="b-MDM2" class="n m"><ellipse cx="724" cy="289" rx="32" ry="14"/><text x="724" y="293">MDM2</text></g>
<g id="b-ATM" class="n m"><ellipse cx="843" cy="287" rx="32" ry="14"/><text x="843" y="291">ATM</text></g>
<g id="b-AKT" class="n m"><ellipse cx="908" cy="301" rx="32" ry="14"/><text x="908" y="305">AKT</text></g>
<g id="b-JNK" class="n m"><ellipse cx="1006" cy="298" rx="32" ry="14"/><text x="1006" y="302">JNK</text></g>
<g id="b-MEK" class="n m"><ellipse cx="1110" cy="301" rx="32" ry="14"/><text x="1110" y="305">MEK</text></g>
<g id="b-CYTC" class="n m"><ellipse cx="780" cy="314" rx="32" ry="14"/><text x="780" y="318">CYTC</text></g>
<g id="b-SMAC" class="n m"><ellipse cx="843" cy="321" rx="32" ry="14"/><text x="843" y="325">SMAC</text></g>
<g id="b-PI3K" class="n m"><ellipse cx="922" cy="338" rx="32" ry="14"/><text x="922" y="342">PI3K</text></g>
<g id="b-CERAMIDE" class="n m"><ellipse cx="1053" cy="325" rx="32" ry="14"/><text x="1053" y="329">CERAMIDE</text></g>
<g id="b-ASK1" class="n m"><ellipse cx="991" cy="336" rx="32" ry="14"/><text x="991" y="340">ASK1</text></g>
<g id="b-STAT3" class="n m"><ellipse cx="687" cy="327" rx="32" ry="14"/><text x="687" y="331">STAT3</text></g>
<g id="b-JUN" class="n m"><ellipse cx="757" cy="346" rx="32" ry="14"/><text x="757" y="350">JUN</text></g>
<g id="b-CASP8" class="n m"><ellipse cx="862" cy="363" rx="32" ry="14"/><text x="862" y="367">CASP8</text></g>
<g id="b-CASP9" class="n m"><ellipse cx="1072" cy="357" rx="32" ry="14"/><text x="1072" y="361">CASP9</text></g>
<g id="b-BCATENIN" class="n m"><ellipse cx="712" cy="375" rx="32" ry="14"/><text x="712" y="379">BCATENIN</text></g>
<g id="b-RAF" class="n m"><ellipse cx="937" cy="380" rx="32" ry="14"/><text x="937" y="384">RAF</text></g>
<g id="b-IAP" class="n m"><ellipse cx="1006" cy="377" rx="32" ry="14"/><text x="1006" y="381">IAP</text></g>
<g id="b-CYCLIND1" class="n m"><ellipse cx="803" cy="502" rx="32" ry="14"/><text x="803" y="506">CYCLIND1</text></g>
<g id="b-FOS" class="n m"><ellipse cx="873" cy="502" rx="32" ry="14"/><text x="873" y="506">FOS</text></g>
<g id="b-P21" class="n m"><ellipse cx="943" cy="498" rx="32" ry="14"/><text x="943" y="502">P21</text></g>
<g id="b-CASP3" class="n m"><ellipse cx="1013" cy="497" rx="32" ry="14"/><text x="1013" y="501">CASP3</text></g>
<g id="b-Prosurvival" class="box"><rect x="842" y="567" width="63" height="29" rx="3" fill="#4d8ff0"/><text x="873.5" y="585.5" font-size="11.5">Prosurvival</text></g>
<g id="b-Antisurvival" class="box"><rect x="929" y="566" width="65" height="30" rx="3" fill="#e8473f"/><text x="961.5" y="585" font-size="11.5">Antisurvival</text></g>
</g>
<text x="258" y="641" class="cap">(a) Original Lu model network.</text>
<text x="880" y="641" class="cap">(b) Modified Lu model network.</text>
</svg>
